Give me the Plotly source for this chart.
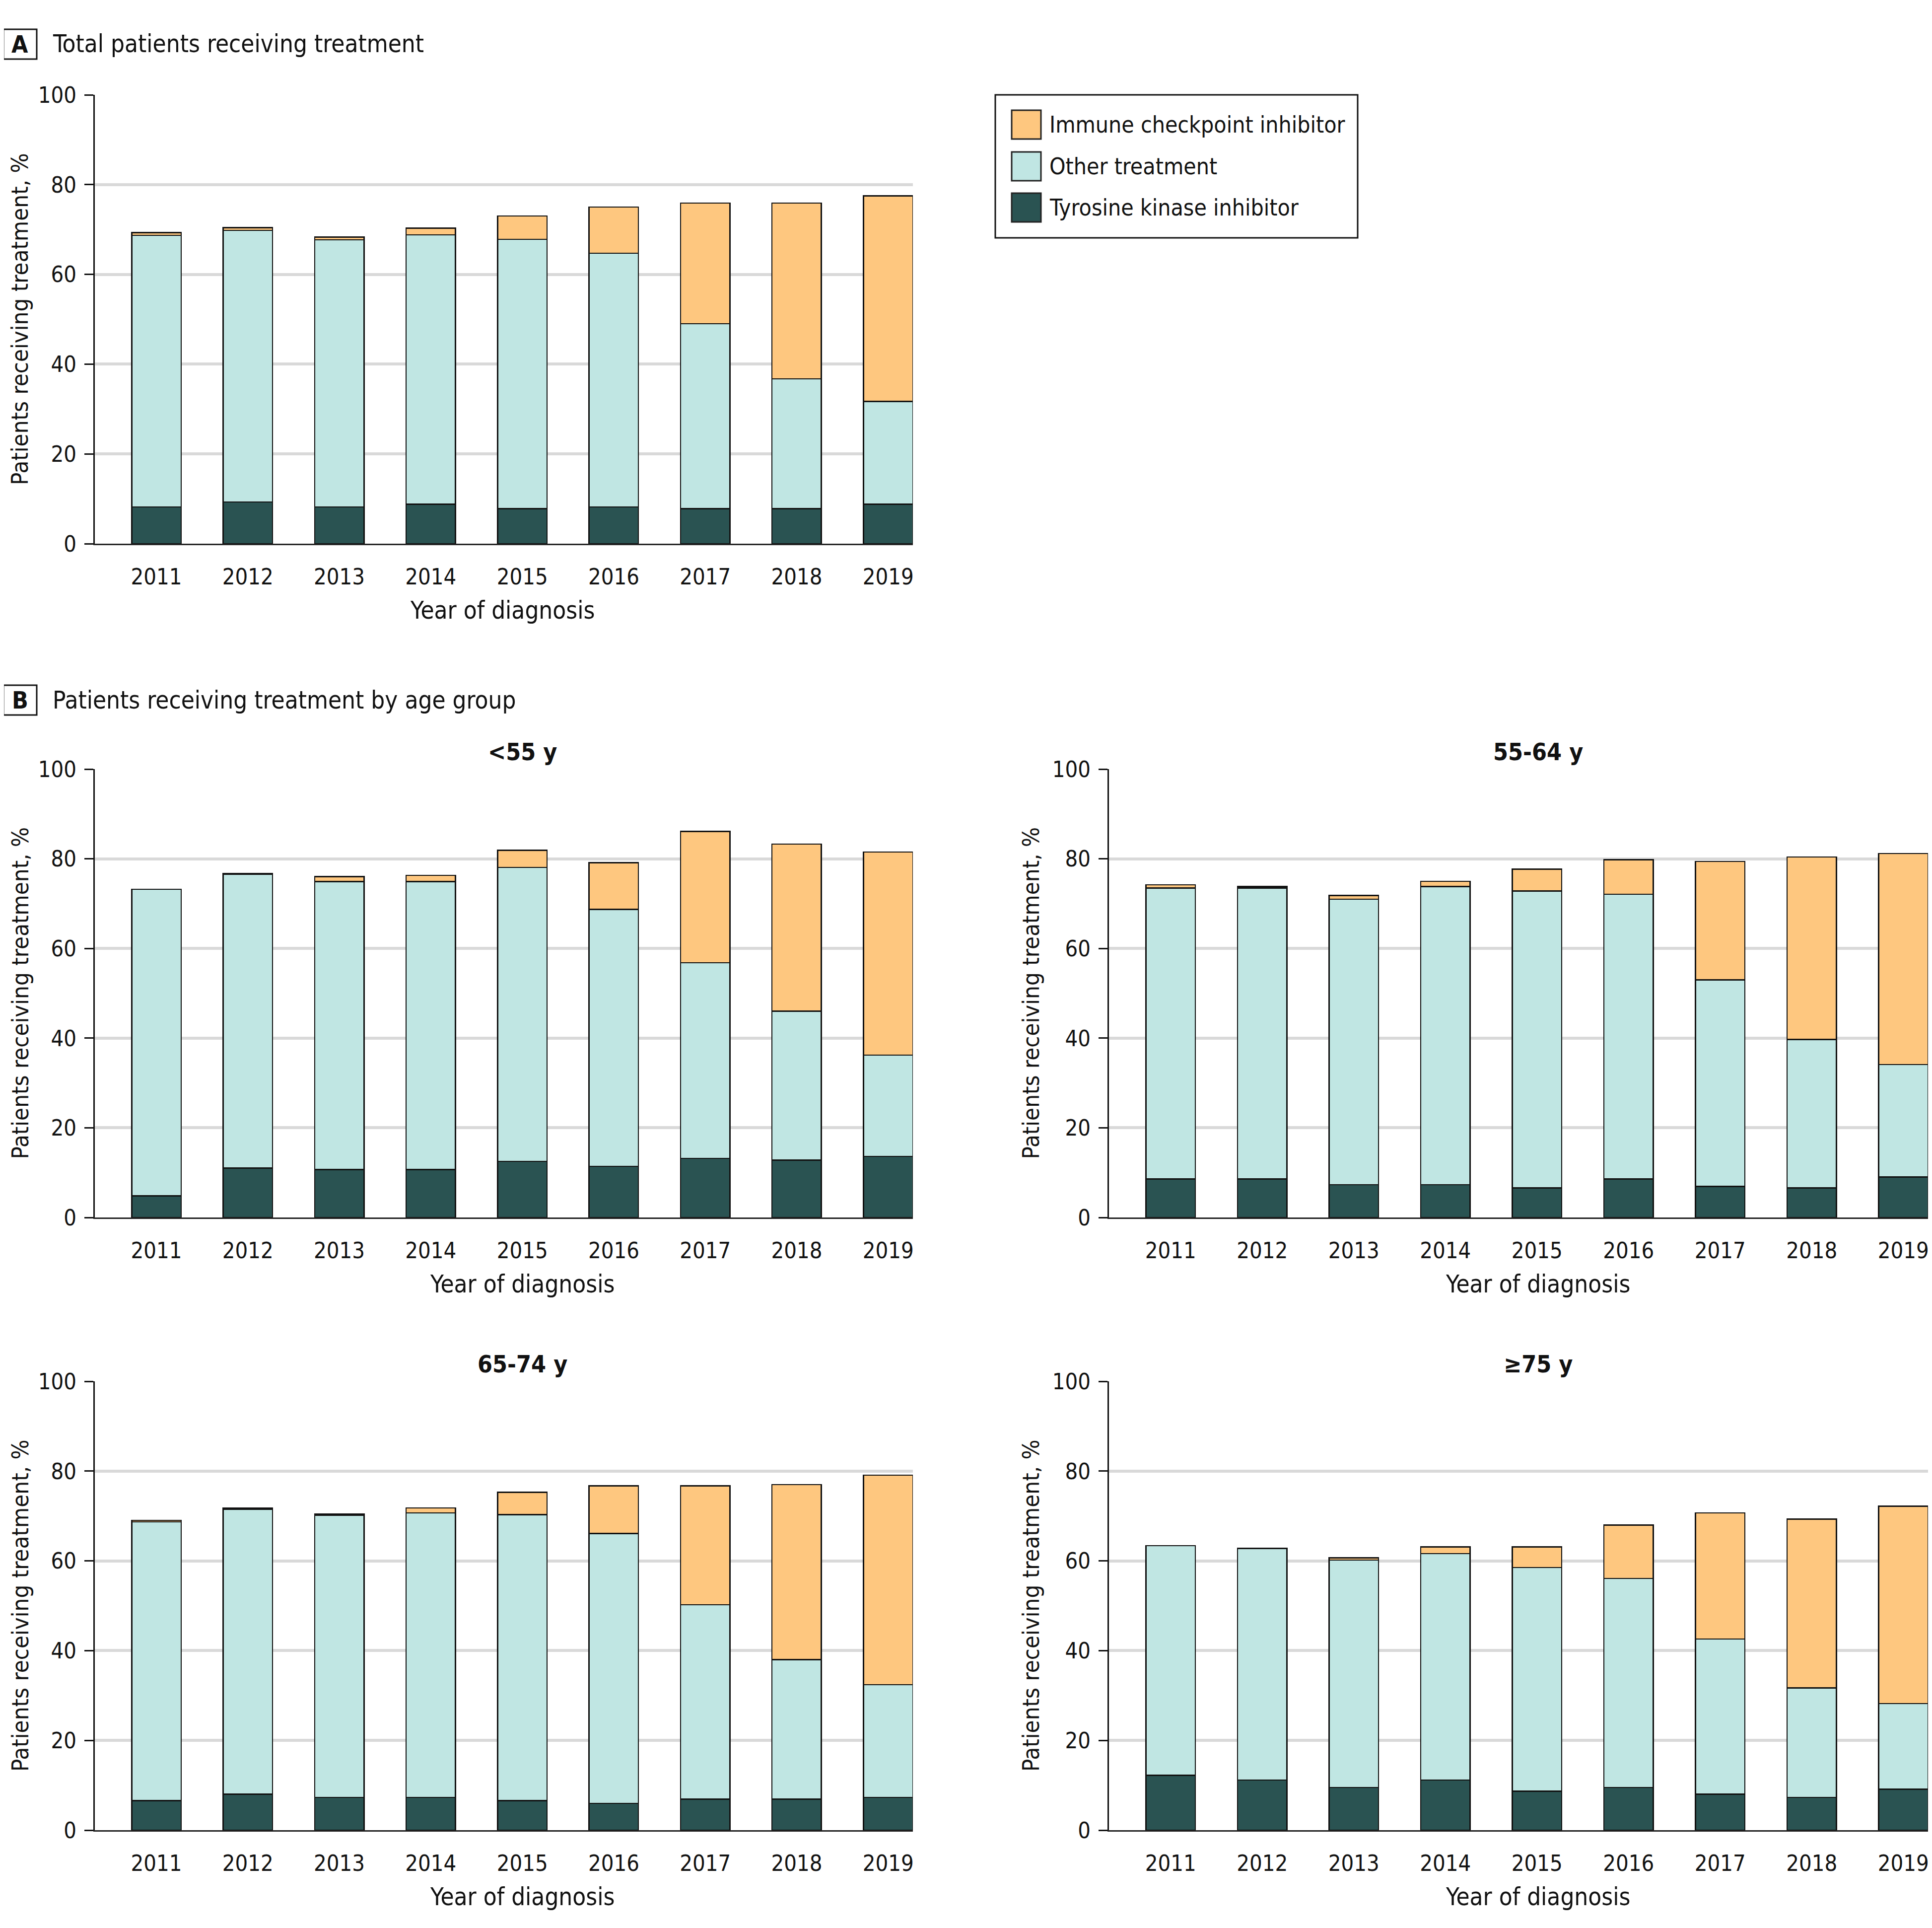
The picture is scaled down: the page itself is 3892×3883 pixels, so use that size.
import plotly.graph_objects as go

W, H = 3892, 3883
OFFSET = 8  # page body margin, compensated so the marks land where the reference has them
FONT = "Liberation Sans Narrow, DejaVu Sans Condensed, Roboto Condensed, Roboto, sans-serif"

years = ["2011", "2012", "2013", "2014", "2015", "2016", "2017", "2018", "2019"]
series_names = ["Immune checkpoint inhibitor", "Other treatment", "Tyrosine kinase inhibitor"]

# segment values (% of patients)
total_tki = [8.2, 9.3, 8.2, 8.8, 7.8, 8.2, 7.8, 7.8, 8.8]
total_other = [60.5, 60.5, 59.5, 60.0, 60.0, 56.5, 41.2, 28.9, 22.9]
total_ici = [0.6, 0.6, 0.6, 1.5, 5.2, 10.3, 26.9, 39.2, 45.8]

lt55_tki = [4.8, 11.0, 10.7, 10.7, 12.5, 11.4, 13.2, 12.8, 13.6]
lt55_other = [68.4, 65.6, 64.2, 64.2, 65.6, 57.3, 43.6, 33.2, 22.6]
lt55_ici = [0.0, 0.1, 1.1, 1.4, 3.8, 10.4, 29.3, 37.3, 45.3]

a55_64_tki = [8.6, 8.6, 7.3, 7.3, 6.6, 8.6, 6.9, 6.6, 9.0]
a55_64_other = [64.9, 64.9, 63.7, 66.5, 66.2, 63.5, 46.1, 33.1, 25.1]
a55_64_ici = [0.7, 0.3, 0.8, 1.2, 4.9, 7.7, 26.4, 40.7, 47.1]

a65_74_tki = [6.6, 8.0, 7.3, 7.3, 6.6, 6.0, 6.9, 6.9, 7.3]
a65_74_other = [62.1, 63.5, 62.9, 63.4, 63.7, 60.1, 43.3, 31.1, 25.1]
a65_74_ici = [0.3, 0.3, 0.2, 1.1, 5.0, 10.6, 26.5, 39.0, 46.7]

ge75_tki = [12.2, 11.2, 9.5, 11.2, 8.7, 9.5, 8.0, 7.3, 9.1]
ge75_other = [51.2, 51.6, 50.7, 50.4, 49.8, 46.6, 34.6, 24.4, 19.1]
ge75_ici = [0.0, 0.0, 0.5, 1.5, 4.6, 11.9, 28.1, 37.6, 44.0]

colors = {"ici": "#FEC77F", "other": "#C0E6E3", "tki": "#2A5352"}


def px(x):
    return (x - OFFSET) / W


def py(y):
    return 1 - (y - OFFSET) / H


# pixel boxes: (left, right), (top, bottom) of each plotting area
panels = [
    dict(tki=total_tki, other=total_other, ici=total_ici, xs=(191, 1839), ys=(191, 1095),
         title=None, xt=1012),
    dict(tki=lt55_tki, other=lt55_other, ici=lt55_ici, xs=(191, 1839), ys=(1549, 2452),
         title="<55 y", xt=1052),
    dict(tki=a55_64_tki, other=a55_64_other, ici=a55_64_ici, xs=(2234, 3884), ys=(1549, 2452),
         title="55-64 y", xt=3098),
    dict(tki=a65_74_tki, other=a65_74_other, ici=a65_74_ici, xs=(191, 1839), ys=(2782, 3686),
         title="65-74 y", xt=1052),
    dict(tki=ge75_tki, other=ge75_other, ici=ge75_ici, xs=(2234, 3884), ys=(2782, 3686),
         title="\u226575 y", xt=3098),
]

fig = go.Figure()
annotations = []
shapes = []
layout_axes = {}

for i, p in enumerate(panels, start=1):
    xa = "x" if i == 1 else f"x{i}"
    ya = "y" if i == 1 else f"y{i}"
    for key in ["tki", "other", "ici"]:
        fig.add_trace(
            go.Bar(
                x=years,
                y=p[key],
                xaxis=xa,
                yaxis=ya,
                width=0.54,
                marker=dict(color=colors[key], line=dict(color="#111111", width=2.5)),
                showlegend=False,
            )
        )
    layout_axes["xaxis" if i == 1 else f"xaxis{i}"] = dict(
        domain=[px(p["xs"][0]), px(p["xs"][1])],
        anchor=ya,
        type="category",
        range=[-0.673, 8.27],
        automargin=False,
        showline=True,
        linecolor="#222222",
        linewidth=3,
        ticks="",
        showgrid=False,
        tickfont=dict(size=45, color="#111111"),
        ticklabelstandoff=25,
    )
    layout_axes["yaxis" if i == 1 else f"yaxis{i}"] = dict(
        domain=[py(p["ys"][1]), py(p["ys"][0])],
        anchor=xa,
        range=[0, 100],
        dtick=20,
        automargin=False,
        showgrid=True,
        gridcolor="#D9D9D9",
        gridwidth=6,
        zeroline=False,
        showline=True,
        linecolor="#111111",
        linewidth=3,
        ticks="outside",
        ticklen=18,
        tickwidth=3,
        tickcolor="#111111",
        tickfont=dict(size=45, color="#111111"),
        ticklabelstandoff=7,
    )
    # axis titles
    annotations.append(dict(
        x=px(p["xt"]), y=py(p["ys"][1] + 134), xref="paper", yref="paper",
        text="Year of diagnosis", showarrow=False, xanchor="center", yanchor="middle",
        font=dict(size=49, color="#111111"),
    ))
    annotations.append(dict(
        x=px(40 if p["xs"][0] < 1000 else 2076), y=py((p["ys"][0] + p["ys"][1]) / 2),
        xref="paper", yref="paper", text="Patients receiving treatment, %", textangle=-90,
        showarrow=False, xanchor="center", yanchor="middle",
        font=dict(size=47, color="#111111"),
    ))
    if p["title"]:
        annotations.append(dict(
            x=px(p["xt"]), y=py(p["ys"][0] - 35), xref="paper", yref="paper",
            text=f"<b>{p['title']}</b>", showarrow=False, xanchor="center", yanchor="middle",
            font=dict(size=48, color="#111111"),
        ))

# panel headers
for letter, text, yc in [("A", "Total patients receiving treatment", 89),
                         ("B", "Patients receiving treatment by age group", 1410)]:
    shapes.append(dict(type="rect", xref="paper", yref="paper",
                       x0=px(7), x1=px(74), y0=py(yc - 30), y1=py(yc + 30),
                       line=dict(color="#111111", width=3)))
    annotations.append(dict(x=px(40), y=py(yc), xref="paper", yref="paper",
                            text=f"<b>{letter}</b>", showarrow=False,
                            xanchor="center", yanchor="middle",
                            font=dict(size=48, color="#111111")))
    annotations.append(dict(x=px(104), y=py(yc), xref="paper", yref="paper",
                            text=text, showarrow=False, xanchor="left", yanchor="middle",
                            font=dict(size=49, color="#111111")))

# legend box
shapes.append(dict(type="rect", xref="paper", yref="paper",
                   x0=px(2005), x1=px(2735), y0=py(191), y1=py(479),
                   line=dict(color="#111111", width=3)))
for name, key, yc in zip(series_names, ["ici", "other", "tki"], [251, 335, 418]):
    shapes.append(dict(type="rect", xref="paper", yref="paper",
                       x0=px(2038), x1=px(2097), y0=py(yc - 29), y1=py(yc + 29),
                       fillcolor=colors[key], line=dict(color="#222222", width=3)))
    annotations.append(dict(x=px(2112), y=py(yc), xref="paper", yref="paper",
                            text=name, showarrow=False, xanchor="left", yanchor="middle",
                            font=dict(size=46, color="#111111")))

fig.update_layout(
    width=W,
    height=H,
    margin=dict(l=0, r=0, t=0, b=0),
    paper_bgcolor="white",
    plot_bgcolor="white",
    barmode="stack",
    showlegend=False,
    font=dict(family=FONT, color="#111111"),
    annotations=annotations,
    shapes=shapes,
    **layout_axes,
)

fig.write_html("out.html")
